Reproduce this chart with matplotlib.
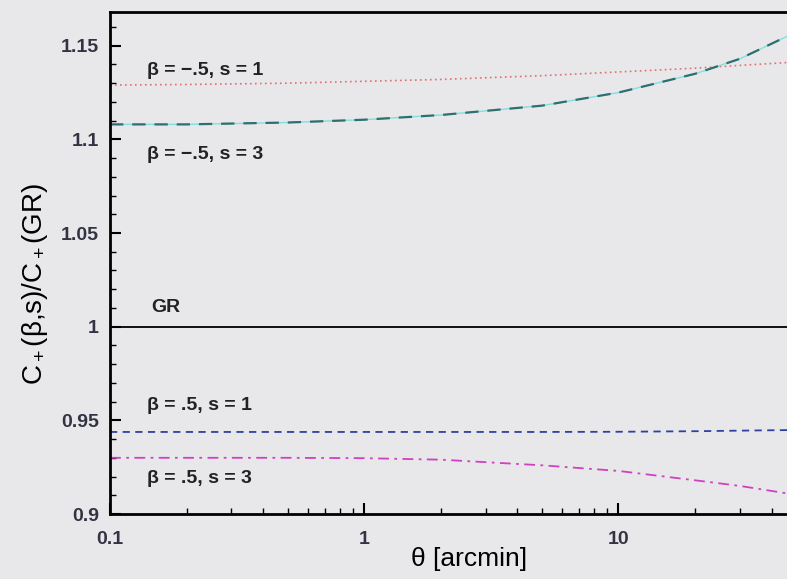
import numpy as np
import matplotlib
matplotlib.use("Agg")
import matplotlib.pyplot as plt
from matplotlib.ticker import FixedLocator, LogLocator, NullFormatter, MultipleLocator

# values
theta = [0.1, 0.2, 0.5, 1, 2, 5, 10, 20, 30, 46]
gr = [1.0, 1.0, 1.0, 1.0, 1.0, 1.0, 1.0, 1.0, 1.0, 1.0]
bm5_s1 = [1.129, 1.1293, 1.130, 1.131, 1.132, 1.134, 1.136, 1.138, 1.1395, 1.141]
bm5_s3 = [1.108, 1.108, 1.109, 1.1105, 1.113, 1.118, 1.125, 1.135, 1.143, 1.155]
bp5_s1 = [0.9438, 0.9438, 0.9438, 0.9438, 0.9438, 0.9438, 0.9439, 0.9442, 0.9445, 0.9448]
bp5_s3 = [0.930, 0.930, 0.930, 0.9298, 0.929, 0.926, 0.923, 0.918, 0.915, 0.911]

labels = ["β = −.5, s = 1", "β = −.5, s = 3", "GR", "β = .5, s = 1", "β = .5, s = 3"]
label_xy = [(0.14, 1.137), (0.14, 1.092), (0.145, 1.010), (0.14, 0.958), (0.14, 0.919)]

plt.rcParams["font.family"] = ["Liberation Sans", "DejaVu Sans"]
plt.rcParams["mathtext.fontset"] = "custom"
plt.rcParams["mathtext.rm"] = "Liberation Sans"
plt.rcParams["mathtext.it"] = "Liberation Sans:italic"

bg = "#e8e8ea"
fig = plt.figure(figsize=(7.87, 5.79), dpi=100, facecolor=bg)
ax = fig.add_axes([110 / 787, 65 / 579, 677 / 787, 502 / 579], facecolor=bg)

ax.plot(theta, bm5_s1, color="#e07070", linestyle=(0, (1, 2)), linewidth=1.2)
ax.plot(theta, bm5_s3, color="#80e0dc", linestyle="-", linewidth=1.0)
ax.plot(theta, bm5_s3, color="#2f6f70", linestyle=(0, (6, 4)), linewidth=1.6)
ax.plot(theta, gr, color="black", linewidth=1.3)
ax.plot(theta, bp5_s1, color="#3040a0", linestyle=(0, (4, 3)), linewidth=1.3)
ax.plot(theta, bp5_s3, color="#d040c0", linestyle=(0, (6, 3, 1.5, 3)), linewidth=1.3)

for txt, (x, y) in zip(labels, label_xy):
    ax.text(x, y, txt, fontsize=14, fontweight="bold", color="#222222",
            ha="left", va="center")

ax.set_xscale("log")
ax.set_xlim(0.1, 46)
ax.set_ylim(0.9, 1.168)

ax.xaxis.set_major_locator(FixedLocator([0.1, 1, 10]))
ax.xaxis.set_minor_locator(LogLocator(base=10, subs=np.arange(2, 10)))
ax.xaxis.set_minor_formatter(NullFormatter())
ax.set_xticklabels(["0.1", "1", "10"])
ax.yaxis.set_major_locator(FixedLocator([0.9, 0.95, 1.0, 1.05, 1.1, 1.15]))
ax.set_yticklabels(["0.9", "0.95", "1", "1.05", "1.1", "1.15"])
ax.yaxis.set_minor_locator(MultipleLocator(0.01))

ax.tick_params(which="major", direction="in", length=8, width=1.5, labelsize=14)
ax.tick_params(axis="y", which="major", pad=8)
ax.tick_params(axis="x", which="major", pad=12)
ax.tick_params(which="minor", direction="in", length=4, width=1.0)
ax.tick_params(axis="x", which="both", top=False)
ax.tick_params(axis="y", which="both", right=False)
for lab in ax.get_xticklabels() + ax.get_yticklabels():
    lab.set_fontweight("bold")
    lab.set_color("#333344")

ax.spines["right"].set_visible(False)
for s in ["left", "bottom", "top"]:
    ax.spines[s].set_linewidth(2)

ax.set_xlabel("θ [arcmin]", fontsize=19)
ax.xaxis.set_label_coords(0.53, -0.066)
ax.set_ylabel("C$_+$(β,s)/C$_+$(GR)", fontsize=20)
ax.yaxis.set_label_coords(-0.089, 0.458)

fig.savefig("out.png", dpi=100, facecolor=bg)
